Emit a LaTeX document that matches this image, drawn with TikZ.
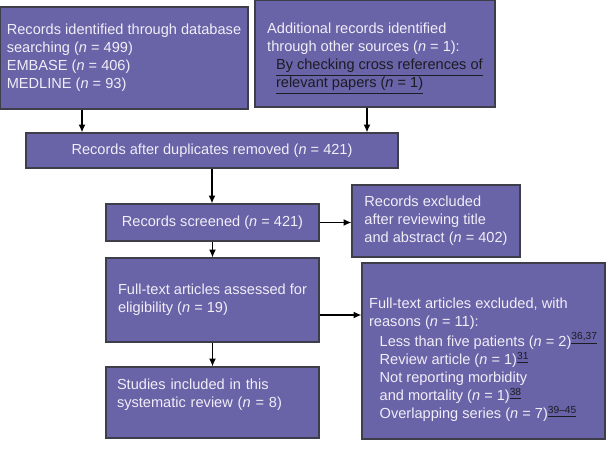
\documentclass[tikz,border=0pt]{standalone}
\usepackage{fontspec}
\setmainfont{Liberation Sans}
\usetikzlibrary{arrows.meta}

\definecolor{boxfill}{RGB}{105,99,167}
\definecolor{boxline}{RGB}{62,62,74}
\definecolor{boxtext}{RGB}{240,238,248}
\definecolor{reftext}{RGB}{28,28,36}
\newcommand{\nn}{\textit{n}}
\newcommand{\refnum}[1]{\textsuperscript{\color{reftext}\underline{#1}}}
\newcommand{\linkline}[1]{\hspace*{5pt}{\color{reftext}\underline{#1}}}

\tikzset{
  box/.style={draw=boxline, line width=0.6pt, fill=boxfill, text=boxtext,
    font=\fontsize{8.3}{10.3}\selectfont, align=left, inner sep=0pt},
  arr/.style={line width=0.85pt, -{Latex[length=4.5pt,width=4pt]}}
}

\begin{document}
\begin{tikzpicture}
\useasboundingbox (0,0) rectangle (12.12,-8.98);

% identification
\node[box, minimum width=4.96cm, minimum height=2.04cm] (db) at (2.48,-1.16)
  {Records identified through database\\searching (\nn{} = 499)\\EMBASE (\nn{} = 406)\\MEDLINE (\nn{} = 93)};
\node[box, minimum width=4.80cm, minimum height=2.14cm] (other) at (7.50,-1.07)
  {\rule{0pt}{12pt}Additional records identified\\through other sources (\nn{} = 1):\\
   \linkline{By checking cross references of}\\
   \linkline{relevant papers (\nn{} = 1)}};

% screening
\node[box, align=center, minimum width=7.44cm, minimum height=0.70cm] (dup) at (4.24,-3.01)
  {Records after duplicates removed (\nn{} = 421)};
\node[box, align=center, minimum width=4.26cm, minimum height=0.74cm] (screen) at (4.25,-4.45)
  {Records screened (\nn{} = 421)};
\node[box, minimum width=3.36cm, minimum height=1.44cm] (excl1) at (8.72,-4.42)
  {Records excluded\\after reviewing title\\and abstract (\nn{} = 402)};

% eligibility
\node[box, minimum width=4.26cm, minimum height=1.68cm] (full) at (4.25,-6.00)
  {Full-text articles assessed for\\eligibility (\nn{} = 19)};
\node[box, minimum width=4.86cm, minimum height=3.52cm] (excl2) at (9.67,-7.02)
  {\rule{0pt}{16pt}Full-text articles excluded, with\\reasons (\nn{} = 11):\\[1pt]
   \hspace*{6pt}Less than five patients (\nn{} = 2)\refnum{36,37}\\
   \hspace*{6pt}Review article (\nn{} = 1)\refnum{31}\\
   \hspace*{6pt}Not reporting morbidity\\
   \hspace*{6pt}and mortality (\nn{} = 1)\refnum{38}\\
   \hspace*{6pt}Overlapping series (\nn{} = 7)\refnum{39--45}};

% included
\node[box, text width=3.82cm, inner xsep=0.22cm, minimum height=1.42cm] (incl) at (4.25,-8.05)
  {Studies included in this\\systematic review (\nn{} = 8)\\ \mbox{}};

\coordinate (dbout) at ([xshift=-0.84cm]db.south);
\coordinate (otherout) at ([xshift=-0.16cm]other.south);
\coordinate (fullout) at ([yshift=-0.30cm]full.east);

\draw[arr] (dbout) -- (dbout |- dup.north);
\draw[arr] (otherout) -- (otherout |- dup.north);
\draw[arr] (dup.south) -- (dup.south |- screen.north);
\draw[arr] (screen.east) -- (screen.east -| excl1.west);
\draw[arr] (screen.south) -- (full.north);
\draw[arr] (fullout) -- (fullout -| excl2.west);
\draw[arr] (full.south) -- (incl.north);
\end{tikzpicture}
\end{document}
